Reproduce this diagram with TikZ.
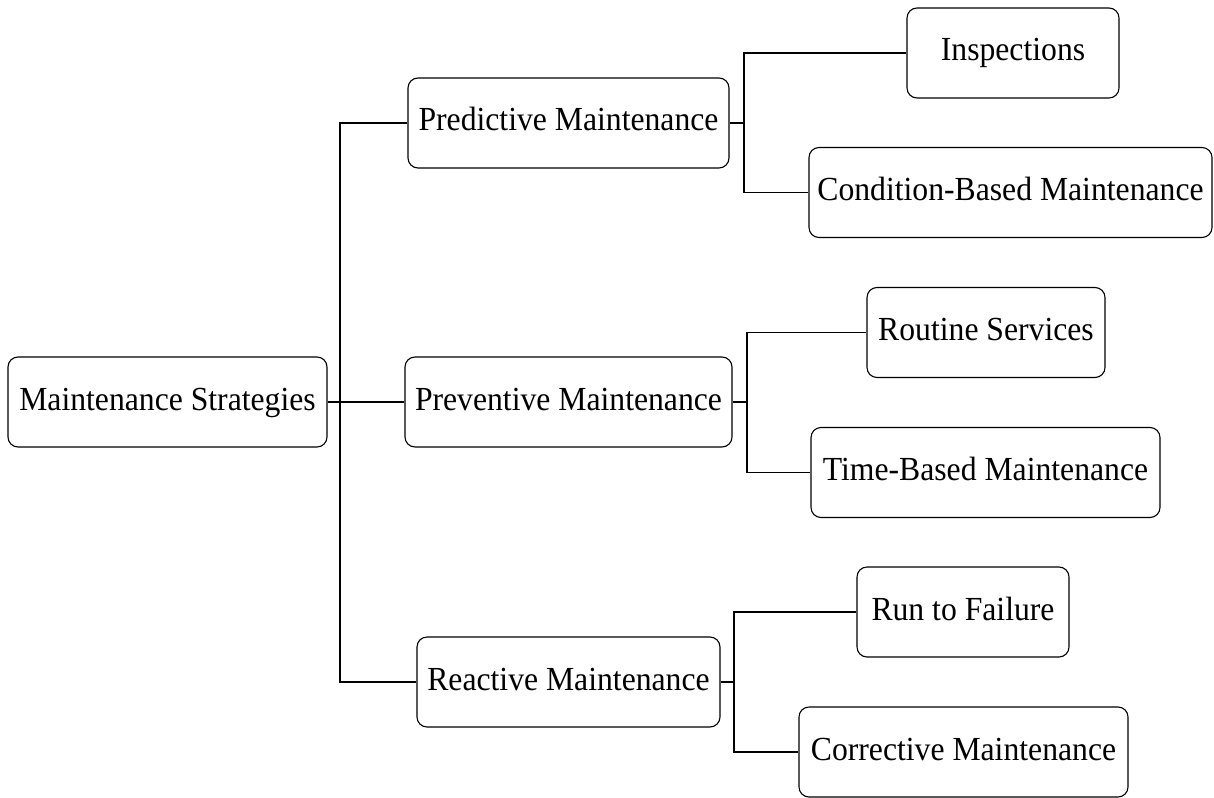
\documentclass[tikz,border=0pt]{standalone}
\usepackage{fontspec}
\setmainfont[FakeStretch=0.94]{Liberation Serif}
\begin{document}
\begin{tikzpicture}[x=1pt,y=-1pt,
  box/.style={draw=black, line width=1.1pt, rounded corners=10pt, inner sep=0pt,
    font=\fontsize{33.7}{40}\selectfont, text height=24pt, text depth=8pt, align=center},
  link/.style={draw=black, line width=1.1pt}]
\useasboundingbox (0,0) rectangle (1214,797);

% root
\node[box, minimum width=319pt, minimum height=90pt] (root) at (167.5,402) {Maintenance Strategies};

% second level
\node[box, minimum width=321pt, minimum height=90pt] (pred) at (568.5,123) {Predictive Maintenance};
\node[box, minimum width=327pt, minimum height=90pt] (prev) at (568.5,402) {Preventive Maintenance};
\node[box, minimum width=303pt, minimum height=90pt] (react) at (568.5,682) {Reactive Maintenance};

% third level
\node[box, minimum width=212pt, minimum height=90pt] (insp) at (1013,53) {Inspections};
\node[box, minimum width=403pt, minimum height=90pt] (cond) at (1010.5,192.5) {Condition-Based Maintenance};
\node[box, minimum width=238pt, minimum height=90pt] (rout) at (986,332.5) {Routine Services};
\node[box, minimum width=349pt, minimum height=90pt] (timeb) at (985.5,472.5) {Time-Based Maintenance};
\node[box, minimum width=212pt, minimum height=90pt] (run) at (963,612) {Run to Failure};
\node[box, minimum width=329pt, minimum height=90pt] (corr) at (963.5,752) {Corrective Maintenance};

% junction points
\coordinate (j0) at (340,402);
\coordinate (j1) at (744,123);
\coordinate (j2) at (747,402);
\coordinate (j3) at (734,682);

% connectors
\draw[link] (root.east) -- (j0);
\draw[link] (j0) |- (pred.west);
\draw[link] (j0) -- (prev.west);
\draw[link] (j0) |- (react.west);

\draw[link] (pred.east) -- (j1);
\draw[link] (j1) |- (insp.west);
\draw[link] (j1) |- (cond.west);

\draw[link] (prev.east) -- (j2);
\draw[link] (j2) |- (rout.west);
\draw[link] (j2) |- (timeb.west);

\draw[link] (react.east) -- (j3);
\draw[link] (j3) |- (run.west);
\draw[link] (j3) |- (corr.west);
\end{tikzpicture}
\end{document}
